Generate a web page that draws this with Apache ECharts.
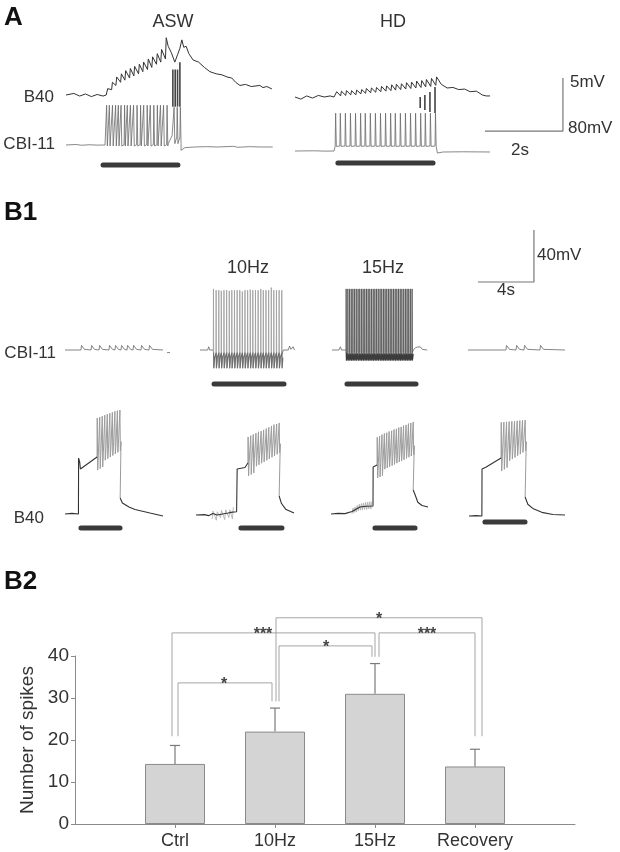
<!DOCTYPE html>
<html><head><meta charset="utf-8">
<script src="https://cdn.jsdelivr.net/npm/echarts@6/dist/echarts.min.js"></script>
<style>html,body{margin:0;padding:0;background:#fff}#c{width:620px;height:852px}</style>
</head><body><div id="c"></div>
<script>
// ================= DATA (time in s from trace start, voltage in mV from rest) =================
// ---- Panel A : ASW ----
const aswCbiPre = [[0,0],[0.25,0.8],[0.4,-0.4],[0.6,0.4],[0.8,-0.2],[1.0,0]];
const aswCbiSpikes1 = [1.03,1.10,1.18,1.26,1.33,1.40,1.49,1.56,1.64,1.72,1.81,1.90,1.98,2.07,2.15,2.24,2.33,2.41,2.49,2.58];
const aswCbiBump = [[2.62,2],[2.67,8],[2.72,14]];
const aswCbiSpikes2 = [2.76,2.84,2.92];
const aswCbiPost = [[2.95,-8],[3.05,-4],[3.3,-3],[3.6,-2.5],[3.9,-3],[4.3,-2],[4.4,-3.5],[4.7,-2.5],[5.0,-3],[5.3,-3]];
const aswB40Pre = [[0,0],[0.2,0.15],[0.35,-0.1],[0.5,0.1],[0.65,-0.15],[0.8,0.05],[0.95,-0.1],[1.03,0]];
const aswB40Teeth = [[1.05,0.0,0.6],[1.17,0.5,1.2],[1.28,0.9,1.7],[1.40,1.2,2.0],[1.51,1.4,2.3],[1.63,1.6,2.5],[1.74,1.8,2.7],[1.86,2.0,2.9],[1.97,2.2,3.1],[2.09,2.4,3.4],[2.20,2.6,3.6],[2.32,2.9,3.9],[2.43,3.1,4.3],[2.55,3.4,5.4]];
const aswB40Post = [[2.62,4.6],[2.7,4.0],[2.79,3.1],[2.86,3.8],[2.92,4.4],[2.97,5.2],[3.02,4.5],[3.08,4.6],[3.15,3.9],[3.26,3.3],[3.4,3.1],[3.55,2.6],[3.69,2.2],[3.85,2.0],[4.0,1.9],[4.13,1.7],[4.25,1.6],[4.35,1.2],[4.46,0.9],[4.6,1.0],[4.75,0.8],[4.97,0.9],[5.05,0.7],[5.15,0.8],[5.28,0.57]];
const aswB40Bars = [[2.74,-1.1,2.4],[2.80,-1.1,2.4],[2.86,-1.1,2.4],[2.92,-1.1,3.1]];
const aswStim = [0.95,2.87];
// ---- Panel A : HD ----
const hdCbiPre = [[0,0],[0.5,0.3],[0.8,-0.2],[1.0,0]];
const hdCbiSpikes = [1.03,1.15,1.28,1.41,1.54,1.67,1.79,1.92,2.05,2.18,2.31,2.44,2.56,2.69,2.82,2.95,3.08,3.21,3.33,3.46,3.59];
const hdCbiPost = [[3.65,-3],[3.8,-1.5],[4.3,-1.2],[5.0,-1.5]];
const hdB40Pre = [[0,0],[0.15,-0.2],[0.3,0.1],[0.45,-0.1],[0.6,0.15],[0.75,0],[0.9,0.1],[1.0,0]];
const hdB40Teeth = [[1.05,0.0,0.5],[1.17,0.1,0.55],[1.30,0.15,0.6],[1.43,0.2,0.6],[1.56,0.2,0.65],[1.69,0.3,0.7],[1.81,0.35,0.8],[1.94,0.4,0.85],[2.07,0.45,0.9],[2.20,0.5,1.0],[2.33,0.55,1.05],[2.46,0.6,1.15],[2.58,0.65,1.2],[2.71,0.7,1.25],[2.84,0.75,1.35],[2.97,0.8,1.4],[3.10,0.85,1.5],[3.23,0.9,1.55],[3.35,0.95,1.65],[3.48,1.0,1.75],[3.61,1.1,1.9]];
const hdB40Post = [[3.75,1.2],[3.9,0.85],[4.05,0.9],[4.2,0.7],[4.35,0.75],[4.49,0.5],[4.65,0.55],[4.8,0.2],[4.9,0.1],[5.0,0.1]];
const hdB40Bars = [[3.21,-1.04,0],[3.33,-1.23,0.19],[3.46,-1.42,0.47],[3.59,-1.51,0.94]];
const hdStim = [1.10,3.54];
const scaleA = {mV:5, s:2, t:6.87, v:-3.21};

// ---- Panel B1 : CBI-11 ----
const b1CtrlBumps = [1.14,1.86,2.43,3.14,3.57,4.0,4.43,4.86,5.43,6.0];
const b1RecBumps = [2.71,3.43,4.0,5.14];
const b1TenPre = [[0,0],[0.55,0],[0.62,2.5],[0.7,0],[0.93,0]];
const b1TenSpikes = [0.95,1.14,1.33,1.51,1.70,1.89,2.08,2.26,2.45,2.64,2.83,3.01,3.20,3.39,3.58,3.76,3.95,4.14,4.33,4.51,4.70,4.89,5.08,5.26,5.45,5.64,5.83];
const b1TenPeaks = [47,46,46,45.5,46,46,45.5,46,46,46,46,45,46,46,46.5,46,46,46,47,46,46,46,48,46,46,46,46];
const b1TenPost = [[5.87,-3],[5.95,0],[6.3,0],[6.4,3],[6.5,0.5],[6.65,2.5],[6.75,0],[6.8,0]];
const b1FifPre = [[0,0],[0.5,0],[0.6,2.5],[0.68,0],[0.98,0]];
const b1FifSpikes = [1.00,1.12,1.24,1.36,1.48,1.60,1.72,1.85,1.97,2.09,2.21,2.33,2.45,2.57,2.69,2.81,2.93,3.05,3.17,3.29,3.42,3.54,3.66,3.78,3.90,4.02,4.14,4.26,4.38,4.50,4.62,4.74,4.86,4.98,5.11,5.23,5.35,5.47,5.59,5.71];
const b1FifPost = [[5.75,-2],[5.8,0],[6.0,2],[6.1,0.5],[6.3,2.5],[6.45,0.5],[6.8,0]];
const b1Stim = [[1.0,6.0],[1.07,6.0]];
const scaleB = {mV:40, s:4, t:4.71, v:52.3};

// ---- Panel B1 : B40 (pre, [t, base, peak] spikes, post, artifacts, stim) ----
const b40Pre1 = [[0,0],[0.5,0.5],[0.96,0],[0.97,43],[1.05,40],[1.1,34.6]];
const b40Spk1 = [[2.29,43.8,73.8],[2.47,45.0,74.5],[2.65,46.2,75.2],[2.83,47.4,76.0],[3.01,48.6,76.8],[3.19,49.8,77.5],[3.37,51.0,78.2],[3.55,52.2,79.0],[3.73,53.4,79.5],[3.91,54.6,80.0]];
const b40Post1 = [[3.94,12.3],[4.1,8.5],[4.57,5.4],[5.0,3.5],[6.07,0.8],[7.0,-1.5]];
const b40Pre2 = [[0,0],[0.6,0.3],[0.9,-0.5],[1.2,1.2],[1.5,0],[1.9,0.8],[2.3,1.5],[2.6,2.2],[2.9,2.5],[2.93,2.5],[2.94,35.4],[3.5,36.5]];
const b40Spk2 = [[3.71,40,60],[3.90,41.2,61],[4.08,42.3,62],[4.27,43.5,63],[4.45,44.6,64],[4.64,45.8,64.5],[4.82,46.9,65.5],[5.01,48.1,66.5],[5.19,49.2,67.5],[5.38,50.4,68.5],[5.56,51.5,69.5],[5.75,52.7,70],[5.93,53.8,70.8]];
const b40Post2 = [[5.94,14.6],[6.1,9],[6.4,4.5],[7.0,1.5]];
const b40Art2 = [[1.15,-3,3],[1.45,-4,2.5],[1.75,-2,3.5],[2.05,-3.5,4],[2.35,-2,4],[2.6,-3,6]];
const b40Pre3 = [[0,0],[0.5,0.5],[1.0,0.3],[1.5,2],[2.07,5.4],[2.5,6],[3.0,6.2],[3.01,36.2]];
const b40Spk3 = [[3.29,37.7,59],[3.46,38.6,60],[3.63,39.5,61],[3.80,40.5,62],[3.97,41.4,62.5],[4.14,42.3,63.5],[4.32,43.2,64],[4.49,44.1,65],[4.66,45.1,65.5],[4.83,46.0,66.5],[5.00,46.9,67],[5.17,47.8,68],[5.35,48.8,68.5],[5.52,49.7,69.5],[5.69,50.6,70],[5.86,51.5,70.8]];
const b40Post3 = [[5.87,18.5],[6.0,15],[6.2,9],[6.5,6.5],[6.93,5.4]];
const b40Art3 = [[1.5,0,4.5],[1.65,1,5.5],[1.8,1.5,6.5],[1.95,2.5,7.5],[2.1,3,8],[2.25,3,8.5],[2.4,3.5,9],[2.55,3.5,9],[2.7,4,9.5],[2.85,4,9.5]];
const b40Pre4 = [[0,0],[0.5,0.3],[0.92,0],[0.93,36.2],[1.2,37.5]];
const b40Spk4 = [[2.29,44.6,72],[2.48,45.9,72.2],[2.67,47.2,72.4],[2.86,48.5,72.6],[3.05,49.8,72.8],[3.24,51.0,73],[3.43,52.3,73.2],[3.62,53.6,73.4],[3.81,54.9,73.6],[4.0,56.2,73.8]];
const b40Post4 = [[4.01,14.6],[4.2,9],[4.6,5.5],[5.2,2.8],[6.0,1.2],[6.86,0.8]];
const b40Stim = [[1.14,3.93,-10.8],[3.21,6.14,-10],[3.14,6.0,-10.8],[1.14,4.0,-4.6]];

// ---- Panel B2 : bar chart ----
const categories = ['Ctrl','10Hz','15Hz','Recovery'];
const meanSpikes = [14.3, 22.0, 31.0, 13.7];
const errSpikes = [4.4, 5.6, 7.2, 4.1];
const yTicks = [0,10,20,30,40];
// brackets: [xLeft, yLeftEnd, xRight, yRightEnd, yTop, xLabel]
const sigBrackets = [[1.03,20.9,1.97,29.2,33.6,1.49],[2.04,29.2,2.97,39.8,42.4,2.51],[0.97,20.9,3.0,39.8,45.5,1.88],[2.01,29.2,4.07,20.9,49.1,3.04],[3.04,39.8,4.0,20.9,45.5,3.52]];
const sigLabels = ['*','*','***','*','***'];

// ================= BUILD =================
const FONT = '"Liberation Sans", Arial, Helvetica, sans-serif';
const grids=[], xAxes=[], yAxes=[], series=[];
function panel(o){
  const i=grids.length;
  grids.push({left:o.x0+o.t0*o.sx, top:o.y0-o.v1*o.sy, width:(o.t1-o.t0)*o.sx, height:(o.v1-o.v0)*o.sy});
  xAxes.push({type:'value',gridIndex:i,min:o.t0,max:o.t1,show:false});
  yAxes.push({type:'value',gridIndex:i,min:o.v0,max:o.v1,show:false});
  return i;
}
function line(i,data,color,width,extra){
  series.push(Object.assign({type:'line',xAxisIndex:i,yAxisIndex:i,data:data,symbol:'none',showSymbol:false,
    lineStyle:Object.assign({color:color,width:width},(extra&&extra.ls)||{}),silent:true,animation:false,clip:false,z:(extra&&extra.z)||2}));
}
function train(times, base, peaks, ahp){
  const d=[]; times.forEach((t,k)=>{const p=Array.isArray(peaks)?peaks[k]:peaks; d.push([t,base],[t+0.012,p],[t+0.03,ahp]);}); return d;
}
function ahpBand(times, top, bottom, mid){
  const d=[]; times.forEach(t=>{d.push([t+0.02,top],[t+0.035,bottom],[t+0.09,mid]);}); return d;
}
function teeth(arr){ const d=[]; arr.forEach(a=>{d.push([a[0],a[1]],[a[0]+0.02,a[2]]);}); return d; }
function bumps(times,end,amp){ const d=[[0,0]]; times.forEach(t=>{d.push([t,0],[t+0.04,amp],[t+0.25,0.5]);}); d.push([end,0]); return d; }
function stim(i,t0,t1,v){ line(i,[[t0,v],[t1,v]],'#3a3a3a',5,{ls:{cap:'round'}}); }

// ---- Panel A ----
const SA=39;
const gAswB = panel({x0:66,y0:95,sx:SA,sy:10.6,t0:0,t1:5.4,v0:-2,v1:6});
const gAswC = panel({x0:66,y0:145,sx:SA,sy:0.6625,t0:0,t1:5.4,v0:-35,v1:65});
const gHdB = panel({x0:295,y0:97,sx:SA,sy:10.6,t0:0,t1:7.0,v0:-3.5,v1:2.5});
const gHdC = panel({x0:295,y0:151,sx:SA,sy:0.6625,t0:0,t1:5.1,v0:-25,v1:62});

line(gAswB, aswB40Pre.concat(teeth(aswB40Teeth)).concat(aswB40Post), '#333', 1.0);
aswB40Bars.forEach(b=>line(gAswB,[[b[0],b[1]],[b[0],b[2]]],'#444',1.6));
line(gAswC, aswCbiPre.concat(train(aswCbiSpikes1,0.5,60,-1.5)).concat(aswCbiBump).concat(train(aswCbiSpikes2,12,57,2)).concat(aswCbiPost), '#6a6a6a', 0.8);
stim(gAswC, aswStim[0], aswStim[1], -30);

line(gHdB, hdB40Pre.concat(teeth(hdB40Teeth)).concat(hdB40Post), '#333', 1.0);
hdB40Bars.forEach(b=>line(gHdB,[[b[0],b[1]],[b[0],b[2]]],'#444',1.6));
line(gHdC, hdCbiPre.concat(train(hdCbiSpikes,7.5,57,7)).concat(hdCbiPost), '#6a6a6a', 0.8);
stim(gHdC, hdStim[0], hdStim[1], -18.1);
line(gHdB, [[scaleA.t-scaleA.s,scaleA.v],[scaleA.t,scaleA.v],[scaleA.t,scaleA.v+scaleA.mV]], '#777', 1.2);

// ---- Panel B1 ----
const SB=14, VB=1.3;
const gC1 = panel({x0:65,y0:350,sx:SB,sy:VB,t0:0,t1:7.6,v0:-30,v1:60});
const gC2 = panel({x0:200,y0:350,sx:SB,sy:VB,t0:0,t1:7,v0:-30,v1:60});
const gC3 = panel({x0:332,y0:350,sx:SB,sy:VB,t0:0,t1:7,v0:-30,v1:60});
const gC4 = panel({x0:468,y0:350,sx:SB,sy:VB,t0:0,t1:7,v0:-30,v1:95});
line(gC1, bumps(b1CtrlBumps,7.0,3.5), '#666', 0.8);
line(gC1, [[7.29,-2],[7.5,-2]], '#666', 0.8);
line(gC4, bumps(b1RecBumps,6.93,3.5), '#666', 0.8);
line(gC2, b1TenPre, '#666', 0.8);
line(gC2, train(b1TenSpikes,-2,b1TenPeaks,-14), '#a3a3a3', 0.9);
line(gC2, ahpBand(b1TenSpikes,-2,-14,-6), '#6e6e6e', 1.1, {z:3});
line(gC2, b1TenPost, '#666', 0.8);
line(gC3, b1FifPre, '#666', 0.8);
line(gC3, train(b1FifSpikes,-2,47,-8), '#5a5a5a', 0.9);
line(gC3, ahpBand(b1FifSpikes,-2,-8,-3), '#3c3c3c', 1.2, {z:3});
line(gC3, b1FifPost, '#666', 0.8);
stim(gC2, b1Stim[0][0], b1Stim[0][1], -26.2);
stim(gC3, b1Stim[1][0], b1Stim[1][1], -26.2);
line(gC4, [[scaleB.t-scaleB.s,scaleB.v],[scaleB.t,scaleB.v],[scaleB.t,scaleB.v+scaleB.mV]], '#777', 1.2);

const b40Defs = [
  {x0:65,y0:514,pre:b40Pre1,spk:b40Spk1,post:b40Post1,art:null},
  {x0:196,y0:515,pre:b40Pre2,spk:b40Spk2,post:b40Post2,art:b40Art2},
  {x0:331,y0:514,pre:b40Pre3,spk:b40Spk3,post:b40Post3,art:b40Art3},
  {x0:469,y0:516,pre:b40Pre4,spk:b40Spk4,post:b40Post4,art:null}
];
b40Defs.forEach((d,k)=>{
  const g = panel({x0:d.x0,y0:d.y0,sx:SB,sy:VB,t0:0,t1:7.3,v0:-20,v1:85});
  if(d.art){ const a=[]; d.art.forEach(r=>a.push([r[0],r[1]],[r[0]+0.07,r[2]])); line(g,a,'#aaa',0.8); }
  const sp=[]; d.spk.forEach((s,j)=>{ const dip = j<3 ? 10 : 6; sp.push([s[0],s[1]],[s[0]+0.012,s[2]],[s[0]+0.045,s[1]-dip],[s[0]+0.09,s[1]+1]); });
  sp.push(d.post[0]);
  line(g, sp, '#9c9c9c', 1.0);
  line(g, d.pre.concat([[d.spk[0][0],d.spk[0][1]]]), '#333', 1.1, {z:3});
  line(g, d.post, '#333', 1.1, {z:3});
  stim(g, b40Stim[k][0], b40Stim[k][1], b40Stim[k][2]);
});

// ---- Panel B2 ----
const gB2 = grids.length;
grids.push({left:75, top:656, width:500, height:168});
const catAxisIdx = xAxes.length;
xAxes.push({type:'category', gridIndex:gB2, data:[''].concat(categories).concat(['']), boundaryGap:false,
  axisLine:{lineStyle:{color:'#8a8a8a',width:1}},
  axisTick:{interval:function(i){return i>=1&&i<=4;}, length:4, lineStyle:{color:'#8a8a8a'}},
  axisLabel:{interval:0, color:'#333', fontSize:18, fontFamily:FONT, margin:8}, splitLine:{show:false}});
const valXIdx = xAxes.length;
xAxes.push({type:'value', gridIndex:gB2, min:0, max:5, show:false});
const b2Y = yAxes.length;
yAxes.push({type:'value', gridIndex:gB2, min:yTicks[0], max:yTicks[yTicks.length-1], interval:yTicks[1]-yTicks[0],
  axisLine:{show:true, lineStyle:{color:'#8a8a8a'}}, axisTick:{show:true,length:4,lineStyle:{color:'#8a8a8a'}},
  axisLabel:{color:'#333', fontSize:19, fontFamily:FONT, margin:6}, splitLine:{show:false},
  name:'Number of spikes', nameLocation:'middle', nameGap:26, nameTextStyle:{color:'#333', fontSize:19, fontFamily:FONT}});
series.push({type:'bar', xAxisIndex:catAxisIdx, yAxisIndex:b2Y, data:['-'].concat(meanSpikes).concat(['-']), barWidth:60,
  itemStyle:{color:'#d4d4d4', borderColor:'#8a8a8a', borderWidth:1}, silent:true, animation:false, z:2});
series.push({type:'custom', xAxisIndex:valXIdx, yAxisIndex:b2Y, clip:false, silent:true, animation:false, z:3,
  data: meanSpikes.map((m,i)=>[i+1,m,errSpikes[i]]),
  renderItem:function(params,api){
    const p0=api.coord([api.value(0),api.value(1)]), p1=api.coord([api.value(0),api.value(1)+api.value(2)]);
    return {type:'group',children:[
      {type:'line',shape:{x1:p0[0],y1:p0[1],x2:p1[0],y2:p1[1]},style:{stroke:'#7a7a7a',lineWidth:1.2}},
      {type:'line',shape:{x1:p1[0]-5,y1:p1[1],x2:p1[0]+5,y2:p1[1]},style:{stroke:'#7a7a7a',lineWidth:1.2}}]};
  }});
series.push({type:'custom', xAxisIndex:valXIdx, yAxisIndex:b2Y, clip:false, silent:true, animation:false, z:4,
  data: sigBrackets,
  renderItem:function(params,api){
    const a=api.coord([api.value(0),api.value(1)]), b=api.coord([api.value(0),api.value(4)]),
          c=api.coord([api.value(2),api.value(4)]), d=api.coord([api.value(2),api.value(3)]),
          l=api.coord([api.value(5),api.value(4)]);
    return {type:'group',children:[
      {type:'polyline',shape:{points:[a,b,c,d]},style:{stroke:'#a5a5a5',lineWidth:1,fill:null}},
      {type:'text',x:l[0],y:l[1]+2,style:{text:sigLabels[params.dataIndex],fill:'#444',font:'bold 16px '+FONT,
        align:'center',verticalAlign:'middle',textAlign:'center',textVerticalAlign:'middle'}}]};
  }});

// ---- Text labels ----
function txt(s,x,y,size,opt){ opt=opt||{}; return {type:'text',x:x,y:y,silent:true,
  style:{text:s,fill:opt.fill||'#333',font:(opt.bold?'bold ':'')+size+'px '+FONT,
    textAlign:opt.align||'left',textVerticalAlign:'middle',align:opt.align||'left',verticalAlign:'middle'}}; }
const texts = [
  txt('A',4,18,26,{bold:true,fill:'#111'}), txt('ASW',173,22,18,{align:'center'}), txt('HD',393,22,18,{align:'center'}),
  txt('B40',54,97,17,{align:'right'}), txt('CBI-11',55,144,17,{align:'right'}),
  txt('5mV',570,82,17), txt('80mV',568,128,17), txt('2s',511,150,17),
  txt('B1',4,213,26,{bold:true,fill:'#111'}), txt('10Hz',248,268,18,{align:'center'}), txt('15Hz',383,268,18,{align:'center'}),
  txt('40mV',537,255,17), txt('4s',506,290,17,{align:'center'}),
  txt('CBI-11',56,353,17,{align:'right'}), txt('B40',44,518,17,{align:'right'}),
  txt('B2',4,582,26,{bold:true,fill:'#111'})
];

const chart = echarts.init(document.getElementById('c'), null, {renderer:'canvas'});
chart.setOption({animation:false, backgroundColor:'#fff', grid:grids, xAxis:xAxes, yAxis:yAxes, series:series, graphic:{elements:texts}});
</script></body></html>
